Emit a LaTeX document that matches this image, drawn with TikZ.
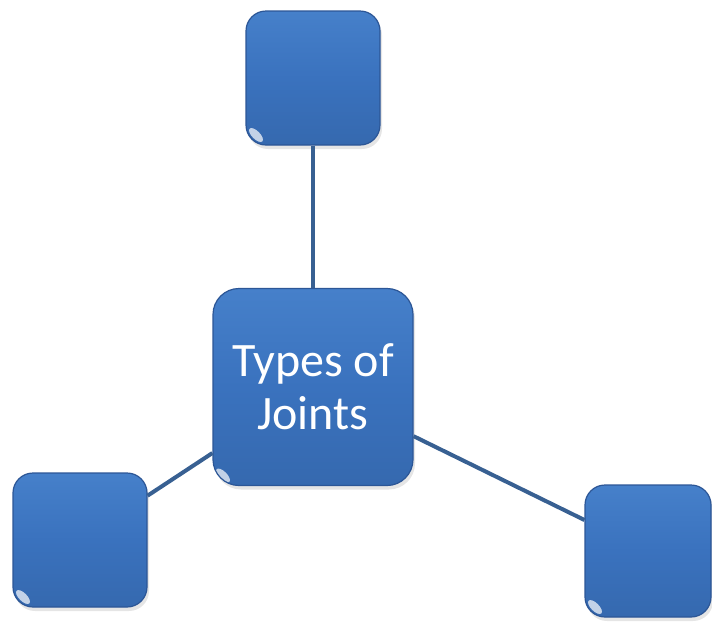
\documentclass[tikz,border=0pt]{standalone}
\usepackage{fontspec}
\setmainfont{Carlito}
\usepackage{tikz}
\usetikzlibrary{positioning, shadows}
\definecolor{jointblue}{RGB}{58,114,190}
\definecolor{jointtop}{RGB}{70,128,202}
\definecolor{jointdark}{RGB}{44,86,150}
\definecolor{edgeblue}{RGB}{56,96,146}
\tikzset{Joint Box/.style={draw=jointdark, line width=1.2pt, rectangle, rounded corners=20pt,
  top color=jointtop, bottom color=jointblue!92!black, middle color=jointblue,
  drop shadow={shadow xshift=2pt, shadow yshift=-4pt, fill=black!20},
  path picture={\fill[white, opacity=.7] ([xshift=10pt,yshift=10pt]path picture bounding box.south west)
    circle [x radius=9pt, y radius=4pt, rotate=-45];},
  inner sep=0pt, align=center}}
\tikzset{Small Box/.style={Joint Box, minimum width=134pt, minimum height=134pt}}
\tikzset{Main Box/.style={Joint Box, minimum width=200pt, minimum height=197pt, rounded corners=26pt,
  text=white, font=\fontsize{48}{53}\selectfont}}
\tikzset{Joint Edge/.style={draw=edgeblue, line width=4pt}}

\begin{document}
\begin{tikzpicture}[x=1pt, y=-1pt]
\useasboundingbox (0,0) rectangle (712,622);
\node[Main Box] (types) at (313,387) {Types of\\Joints};
\node[Small Box] (top) at (313,78) {};
\node[Small Box] (left) at (80,540) {};
\node[Small Box, minimum width=126pt, minimum height=132pt] (right) at (648,551) {};

\draw[Joint Edge] (top) -- (types);
\draw[Joint Edge] (types) -- (left);
\draw[Joint Edge] (types) -- (right);
\end{tikzpicture}
\end{document}
